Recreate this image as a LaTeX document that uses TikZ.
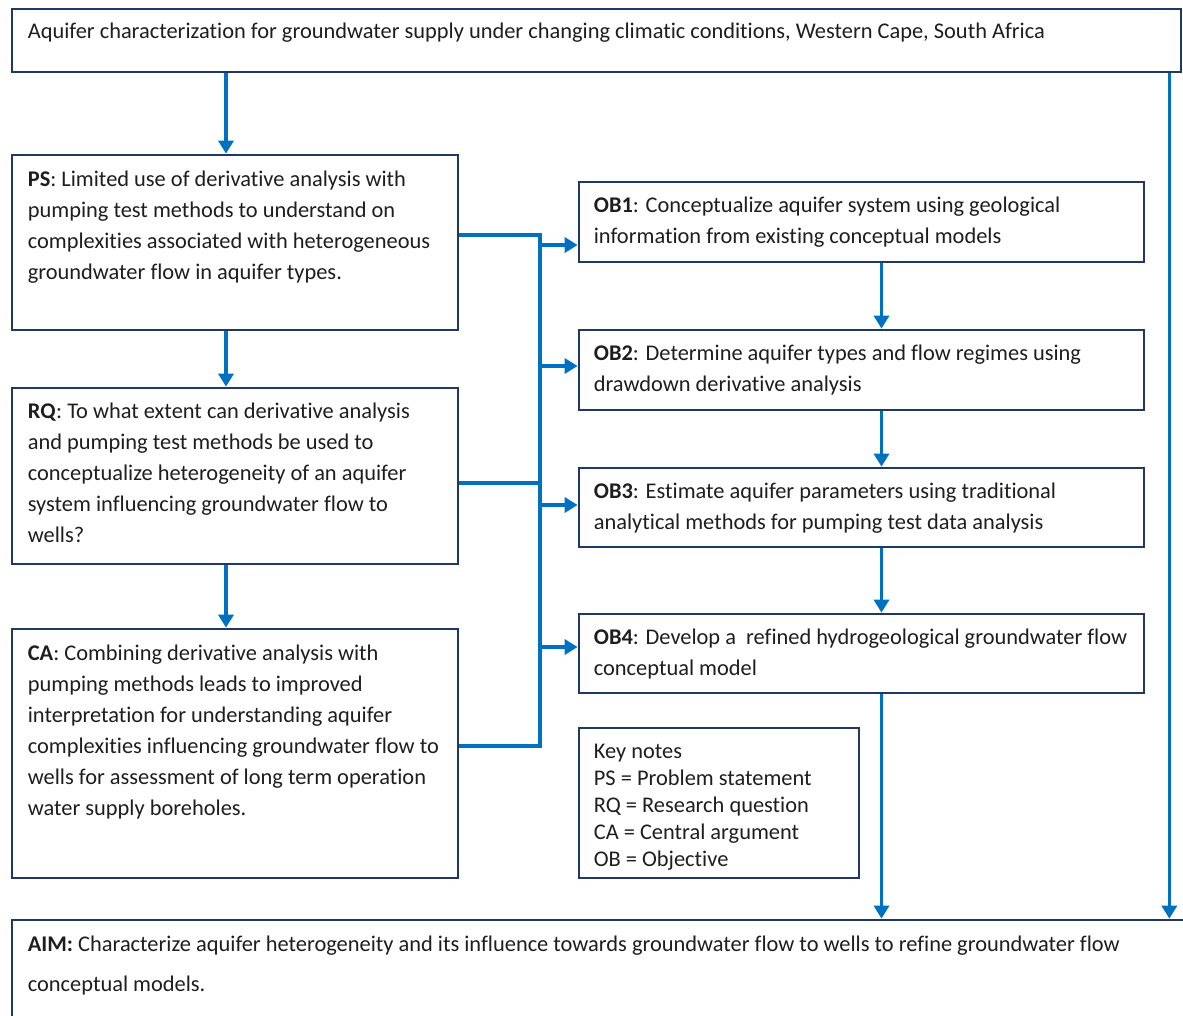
\documentclass[tikz,border=0pt]{standalone}
\usepackage{fontspec}
\setmainfont{Carlito}[Ligatures={NoCommon}]
\usetikzlibrary{arrows.meta,calc}
\definecolor{boxline}{RGB}{31,56,100}
\definecolor{flow}{RGB}{0,112,192}
\definecolor{ink}{RGB}{30,30,30}

\begin{document}
\begin{tikzpicture}[x=1pt,y=-1pt,
    box/.style={draw=boxline,line width=2.7pt,inner sep=0pt,fill=white},
    txt/.style={anchor=north west,align=left,inner sep=0pt,text=ink,font=\fontsize{22.4}{31}\selectfont},
    link/.style={draw=flow,line width=3.5pt},
    arr/.style={link,-{Triangle[width=15pt,length=13pt]}}]
                    \clip (0,0) rectangle (1183,1015);
                    \fill[white] (0,0) rectangle (1183,1015);

                    % boxes
                    \node[box,minimum width=1169pt,minimum height=63pt] (title) at (596.5,40.5) {};
                    \node[box,minimum width=446pt,minimum height=175pt] (ps) at (235,242.5) {};
                    \node[box,minimum width=446pt,minimum height=176pt] (rq) at (235,476) {};
                    \node[box,minimum width=446pt,minimum height=249pt] (ca) at (235,753.5) {};
                    \node[box,minimum width=565pt,minimum height=80pt] (ob1) at (861.5,222) {};
                    \node[box,minimum width=565pt,minimum height=80pt] (ob2) at (861.5,370) {};
                    \node[box,minimum width=565pt,minimum height=79pt] (ob3) at (861.5,507.5) {};
                    \node[box,minimum width=565pt,minimum height=79pt] (ob4) at (861.5,653.5) {};
                    \node[box,minimum width=280pt,minimum height=150pt] (key) at (719,803) {};
                    \node[box,minimum width=1180pt,minimum height=120pt] (aim) at (602,980) {};

                    % texts
                    \node[txt] (titletxt) at ([shift={(17,15.5)}]title.north west) {Aquifer characterization for groundwater supply under changing climatic conditions, Western Cape, South Africa};
                    \node[txt] (pstxt) at ([shift={(17,17)}]ps.north west) {\textbf{PS}: Limited use of derivative analysis with\\pumping test methods to understand on\\complexities associated with heterogeneous\\groundwater flow in aquifer types.};
                    \node[txt] (rqtxt) at ([shift={(17,16)}]rq.north west) {\textbf{RQ}: To what extent can derivative analysis\\and pumping test methods be used to\\conceptualize heterogeneity of an aquifer\\system influencing groundwater flow to\\wells?};
                    \node[txt] (catxt) at ([shift={(17,17)}]ca.north west) {\textbf{CA}: Combining derivative analysis with\\pumping methods leads to improved\\interpretation for understanding aquifer\\complexities influencing groundwater flow to\\wells for assessment of long term operation\\water supply boreholes.};
                    \node[txt] (ob1txt) at ([shift={(16,16.5)}]ob1.north west) {\textbf{OB1}: Conceptualize aquifer system using geological\\information from existing conceptual models};
                    \node[txt] (ob2txt) at ([shift={(16,16.5)}]ob2.north west) {\textbf{OB2}: Determine aquifer types and flow regimes using\\drawdown derivative analysis};
                    \node[txt] (ob3txt) at ([shift={(16,16.5)}]ob3.north west) {\textbf{OB3}: Estimate aquifer parameters using traditional\\analytical methods for pumping test data analysis};
                    \node[txt] (ob4txt) at ([shift={(16,16.5)}]ob4.north west) {\textbf{OB4}: Develop a \ refined hydrogeological groundwater flow\\conceptual model};
                    \node[txt,font=\fontsize{22.4}{27}\selectfont] (keytxt) at ([shift={(16,17.5)}]key.north west) {Key notes\\PS = Problem statement\\RQ = Research question\\CA = Central argument\\OB = Objective};
                    \node[txt,font=\fontsize{22.4}{40}\selectfont] (aimtxt) at ([shift={(17,17.5)}]aim.north west) {\textbf{AIM:} Characterize aquifer heterogeneity and its influence towards groundwater flow to wells to refine groundwater flow\\conceptual models.};

                    % left column
                    \draw[arr] ([xshift=-9pt]ps.north |- title.south) -- ([xshift=-9pt]ps.north);
                    \draw[arr] ([xshift=-9pt]ps.south) -- ([xshift=-9pt]rq.north);
                    \draw[arr] ([xshift=-9pt]rq.south) -- ([xshift=-9pt]ca.north);

                    % bus to objectives
                    \coordinate (bustop) at (540,235);
                    \coordinate (busbot) at (540,746);
                    \draw[link] ([yshift=7.5pt]ps.east) -- (bustop) -- (busbot) -- ([yshift=7.5pt]ca.east);
                    \draw[link] ([yshift=-7pt]rq.east) -- ([yshift=-7pt]bustop |- rq.east);
                    \draw[arr] ([yshift=-23pt]bustop |- ob1.west) -- ([yshift=-23pt]ob1.west);
                    \draw[arr] ([yshift=4pt]bustop |- ob2.west) -- ([yshift=4pt]ob2.west);
                    \draw[arr] ([yshift=2.5pt]bustop |- ob3.west) -- ([yshift=2.5pt]ob3.west);
                    \draw[arr] ([yshift=6.5pt]bustop |- ob4.west) -- ([yshift=6.5pt]ob4.west);

                    % objectives chain
                    \draw[arr] ([xshift=20pt]ob1.south) -- ([xshift=20pt]ob2.north);
                    \draw[arr] ([xshift=20pt]ob2.south) -- ([xshift=20pt]ob3.north);
                    \draw[arr] ([xshift=20pt]ob3.south) -- ([xshift=20pt]ob4.north);
                    \draw[arr] ([xshift=20pt]ob4.south) -- ([xshift=20pt]ob4.south |- aim.north);
                    \draw[arr] ([xshift=-13pt]title.south east) -- ([xshift=-13pt]title.south east |- aim.north);
                \end{tikzpicture}
\end{document}
